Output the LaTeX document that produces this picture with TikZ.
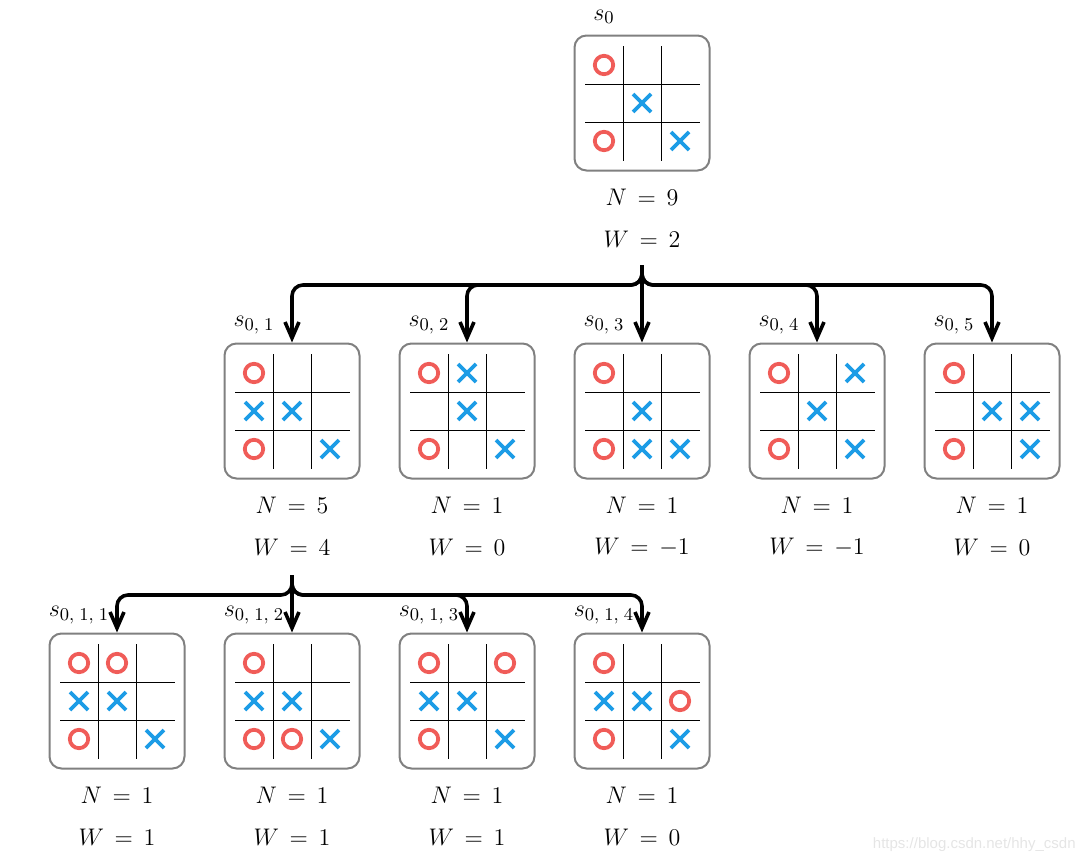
\documentclass[tikz,border=0pt]{standalone}
\usepackage{fontspec}
\newfontfamily\wmfont{Liberation Sans}
\usetikzlibrary{arrows.meta}
\definecolor{ored}{RGB}{240,92,88}
\definecolor{xblue}{RGB}{28,156,230}
\definecolor{boxgray}{RGB}{128,128,128}
\tikzset{
  boardbox/.style={draw=boxgray, line width=1pt, rounded corners=6pt,
    minimum width=67.5pt, minimum height=67.5pt, inner sep=0pt},
  gridline/.style={line width=0.5pt, black},
  omark/.style={draw=ored, line width=1.9pt},
  xmark/.style={draw=xblue, line width=1.9pt},
  stat/.style={font=\large, anchor=center, inner sep=1pt},
  slabel/.style={font=\fontsize{13}{15}\selectfont, anchor=center, inner sep=1pt},
  conn/.style={line width=1.8pt, rounded corners=5.5pt,
    -{Straight Barb[length=8pt,width=7pt]}},
}
\newcommand\tttboard[5]{%
  \node[boardbox] (#1) at (#2,#3) {};
  \begin{scope}[shift={(#2,#3)}]
    \foreach \v in {-19,19} {
      \draw[gridline] (\v,-57) -- (\v,58);
      \draw[gridline] (-57,\v) -- (58,\v);
    }
    \foreach \mrow/\mcol in {#4}
      \draw[omark] ({\mcol*38-76},{\mrow*38-76}) circle[radius=4.6pt];
    \foreach \mrow/\mcol in {#5} {
      \draw[xmark] ({\mcol*38-85},{\mrow*38-85}) -- ({\mcol*38-67},{\mrow*38-67});
      \draw[xmark] ({\mcol*38-85},{\mrow*38-67}) -- ({\mcol*38-67},{\mrow*38-85});
    }
  \end{scope}}
\newcommand\boardtext[5]{% name, x, y, label, N
  \node[slabel] (#1l) at ({#2-38},{#3-86}) {$#4$};
  \node[stat] (#1n) at (#2,{#3+94}) {$N\,=\,#5$};}
\newcommand\boardw[4]{%
  \node[stat] (#1w) at (#2,{#3+136}) {$W\,=\,#4$};}
\begin{document}
\begin{tikzpicture}[x=0.5pt,y=-0.5pt]
  \useasboundingbox (0,0) rectangle (1082,862);
  % level 0
  \tttboard{b0}{642}{103}{1/1,3/1}{2/2,3/3}
  \boardtext{b0}{642}{103}{s_{0}}{9}\boardw{b0}{642}{103}{2}
  % level 1
  \tttboard{b01}{292}{411}{1/1,3/1}{2/1,2/2,3/3}
  \boardtext{b01}{292}{411}{s_{0,\;1}}{5}\boardw{b01}{292}{411}{4}
  \tttboard{b02}{467}{411}{1/1,3/1}{1/2,2/2,3/3}
  \boardtext{b02}{467}{411}{s_{0,\;2}}{1}\boardw{b02}{467}{411}{0}
  \tttboard{b03}{642}{411}{1/1,3/1}{2/2,3/2,3/3}
  \boardtext{b03}{642}{411}{s_{0,\;3}}{1}\boardw{b03}{642}{411}{-1}
  \tttboard{b04}{817}{411}{1/1,3/1}{1/3,2/2,3/3}
  \boardtext{b04}{817}{411}{s_{0,\;4}}{1}\boardw{b04}{817}{411}{-1}
  \tttboard{b05}{992}{411}{1/1,3/1}{2/2,2/3,3/3}
  \boardtext{b05}{992}{411}{s_{0,\;5}}{1}\boardw{b05}{992}{411}{0}
  % level 2
  \tttboard{b011}{117}{701}{1/1,1/2,3/1}{2/1,2/2,3/3}
  \boardtext{b011}{117}{701}{s_{0,\;1,\;1}}{1}\boardw{b011}{117}{701}{1}
  \tttboard{b012}{292}{701}{1/1,3/1,3/2}{2/1,2/2,3/3}
  \boardtext{b012}{292}{701}{s_{0,\;1,\;2}}{1}\boardw{b012}{292}{701}{1}
  \tttboard{b013}{467}{701}{1/1,1/3,3/1}{2/1,2/2,3/3}
  \boardtext{b013}{467}{701}{s_{0,\;1,\;3}}{1}\boardw{b013}{467}{701}{1}
  \tttboard{b014}{642}{701}{1/1,2/3,3/1}{2/1,2/2,3/3}
  \boardtext{b014}{642}{701}{s_{0,\;1,\;4}}{1}\boardw{b014}{642}{701}{0}
  % connectors
  \coordinate (f0) at (642,265);
  \coordinate (f1) at (292,575);
  \draw[conn] (f0) -- ++(0,20) -| (b01.north);
  \draw[conn] (f0) -- ++(0,20) -| (b02.north);
  \draw[conn] (f0) -- (b03.north);
  \draw[conn] (f0) -- ++(0,20) -| (b04.north);
  \draw[conn] (f0) -- ++(0,20) -| (b05.north);
  \draw[conn] (f1) -- ++(0,20) -| (b011.north);
  \draw[conn] (f1) -- (b012.north);
  \draw[conn] (f1) -- ++(0,20) -| (b013.north);
  \draw[conn] (f1) -- ++(0,20) -| (b014.north);
  % watermark
  \node[text=black!10, font=\wmfont\fontsize{7.5}{9}\selectfont, anchor=east, inner sep=0pt]
    (wm) at (1076,845) {https://blog.csdn.net/hhy\_csdn};
\end{tikzpicture}
\end{document}
